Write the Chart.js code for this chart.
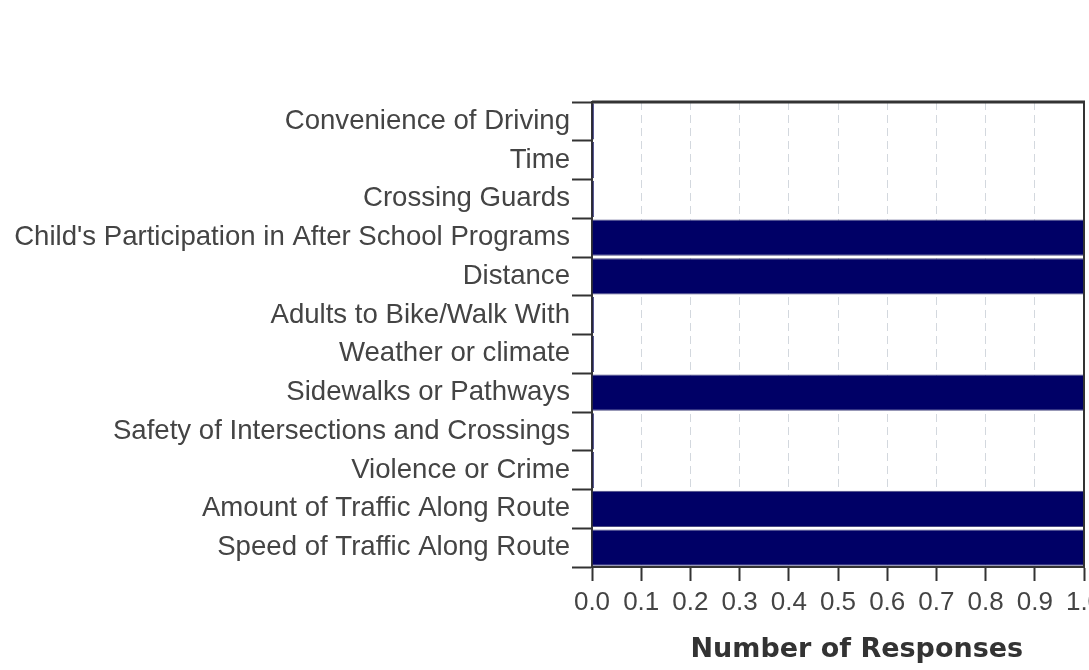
<!DOCTYPE html>
<html>
<head>
<meta charset="utf-8">
<script src="https://cdn.jsdelivr.net/npm/chart.js@4.4.1/dist/chart.umd.min.js"></script>
<style>
  html, body { margin: 0; padding: 0; background: #fff; overflow: hidden; }
  #wrap { width: 1089px; height: 670px; }
</style>
</head>
<body>
<div id="wrap"><canvas id="chart" width="1089" height="670"></canvas></div>
<script>
// reasons shown top to bottom
const categories = [
    "Convenience of Driving",
    "Time",
    "Crossing Guards",
    "Child's Participation in After School Programs",
    "Distance",
    "Adults to Bike/Walk With",
    "Weather or climate",
    "Sidewalks or Pathways",
    "Safety of Intersections and Crossings",
    "Violence or Crime",
    "Amount of Traffic Along Route",
    "Speed of Traffic Along Route"
];
const responses = [0, 0, 0, 1, 1, 0, 0, 1, 0, 0, 1, 1];
const xMin = 0;
const xMax = 1;
const xStep = 0.1;
const axisTitle = "Number of Responses";

const NAVY = '#000066';
const AXIS = '#333333';

// top and right edges of the plot box
const frame = {
    id: 'frame',
    afterDatasetsDraw(chart) {
        const { ctx, chartArea: a } = chart;
        ctx.save();
        ctx.strokeStyle = AXIS;
        ctx.lineWidth = 3;
        ctx.beginPath();
        ctx.moveTo(a.left, a.top);
        ctx.lineTo(a.right + 1, a.top);
        ctx.stroke();
        ctx.lineWidth = 2;
        ctx.beginPath();
        ctx.moveTo(a.right, a.top);
        ctx.lineTo(a.right, a.bottom);
        ctx.stroke();
        ctx.restore();
    }
};

new Chart(document.getElementById('chart'), {
    type: 'bar',
    data: {
        labels: categories,
        datasets: [{
            data: responses,
            backgroundColor: NAVY,
            borderColor: '#4a4a80',
            borderWidth: 1,
            minBarLength: 2,
            barPercentage: 0.94,
            categoryPercentage: 1.0
        }]
    },
    options: {
        indexAxis: 'y',
        responsive: false,
        animation: false,
        devicePixelRatio: 1,
        layout: { padding: { top: 102, left: 0, right: 5, bottom: 0 } },
        plugins: {
            legend: { display: false },
            tooltip: { enabled: false }
        },
        scales: {
            y: {
                grid: {
                    offset: true,
                    drawOnChartArea: false,
                    tickLength: 20,
                    tickColor: AXIS,
                    tickWidth: 2
                },
                border: { color: AXIS, width: 2 },
                ticks: {
                    autoSkip: false,
                    padding: 2,
                    color: '#444',
                    font: { family: "'Liberation Sans', Arial, sans-serif", size: 27.6 }
                },
                afterFit(scale) { scale.width = 592; }
            },
            x: {
                min: xMin,
                max: xMax,
                grid: {
                    color: '#d3d8de',
                    lineWidth: 1,
                    tickLength: 14,
                    tickColor: AXIS,
                    tickWidth: 2,
                    tickBorderDash: []
                },
                border: { color: AXIS, width: 2, dash: [8, 5] },
                ticks: {
                    stepSize: xStep,
                    padding: 6,
                    maxRotation: 0,
                    autoSkip: false,
                    color: '#444',
                    font: { family: "'Liberation Sans Narrow', 'Liberation Sans', Arial, sans-serif", size: 26 },
                    callback: (v) => Number(v).toFixed(1)
                },
                title: {
                    display: true,
                    text: '    ' + axisTitle,
                    color: '#333',
                    padding: { top: 0, bottom: 4 },
                    font: { family: "'DejaVu Sans', sans-serif", size: 27, weight: 'bold' }
                },
                afterFit(scale) {
                    scale.height = 103;
                    scale.paddingRight = 0;
                    scale.paddingLeft = 0;
                }
            }
        }
    },
    plugins: [frame]
});
</script>
</body>
</html>
